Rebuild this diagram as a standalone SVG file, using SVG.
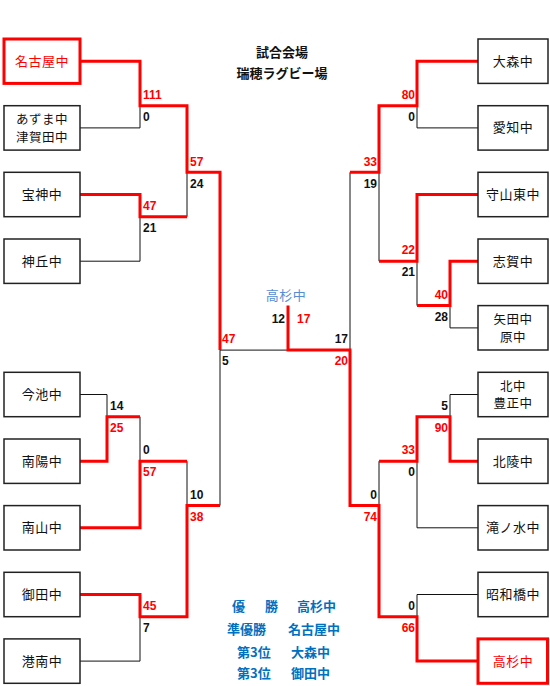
<svg xmlns="http://www.w3.org/2000/svg" width="550" height="686" viewBox="0 0 550 686">
<style>
.box{fill:#fff;stroke:#222;stroke-width:1.5}
.win{fill:#fff;stroke:#f00;stroke-width:3}
.bt{font-family:"Noto Sans CJK JP","Noto Sans",sans-serif;font-size:13px;fill:#111;text-anchor:middle;letter-spacing:0.5px}
.b2{font-size:12.5px}
.bw{fill:#f00}
.ln{fill:none;stroke:#111;stroke-width:1}
.rl{fill:none;stroke:#f00;stroke-width:3;stroke-linejoin:miter}
.sc{font-family:"Liberation Sans",Arial,sans-serif;font-size:12px;font-weight:bold;fill:#111}
.sr{fill:#f00}
.e{text-anchor:end}
.tt{font-family:"Noto Sans CJK JP",sans-serif;font-size:13px;font-weight:bold;fill:#111;text-anchor:middle}
.bl{font-family:"Noto Sans CJK JP",sans-serif;font-size:13px;font-weight:bold;fill:#0070C0}
</style>
<rect width="550" height="686" fill="#fff"/>
<g id="title">
<text class="tt" x="282" y="57">試合会場</text>
<text class="tt" x="282" y="78">瑞穂ラグビー場</text>
</g>
<g id="connectors">
<path class="ln" d="M80,127.9 H140 V105.7"/>
<path class="ln" d="M80,261.2 H140 V216.8"/>
<path class="ln" d="M187,172.3 V216.8"/>
<path class="ln" d="M80,394.5 H107 V416.7"/>
<path class="ln" d="M140,416.7 V461.2"/>
<path class="ln" d="M187,461.2 V505.6"/>
<path class="ln" d="M80,661.1 H140 V616.7"/>
<path class="ln" d="M220,350.1 V505.6"/>
<path class="ln" d="M220,350.1 H288"/>
<path class="ln" d="M478,127.9 H417 V105.7"/>
<path class="ln" d="M379,172.3 V261.2"/>
<path class="ln" d="M417,261.2 V305.6"/>
<path class="ln" d="M478,327.9 H450 V305.6"/>
<path class="ln" d="M350,172.3 V350.1"/>
<path class="ln" d="M478,394.5 H450 V416.7"/>
<path class="ln" d="M478,527.8 H417 V461.2"/>
<path class="ln" d="M379,461.2 V505.6"/>
<path class="ln" d="M478,594.5 H417 V616.7"/>
<path class="rl" d="M80,61.2 H140 V105.7 H187 V172.3 H220 V350.1"/>
<path class="rl" d="M80,194.5 H140 V216.8 H187"/>
<path class="rl" d="M80,461.2 H107 V416.7 H140"/>
<path class="rl" d="M80,527.8 H140 V461.2 H187"/>
<path class="rl" d="M80,594.5 H140 V616.7 H187 V505.6 H220"/>
<path class="rl" d="M478,61.2 H417 V105.7 H379 V172.3 H350"/>
<path class="rl" d="M478,194.5 H417 V261.2 H379"/>
<path class="rl" d="M478,261.2 H450 V305.6 H417"/>
<path class="rl" d="M478,461.2 H450 V416.7 H417 V461.2 H379"/>
<path class="rl" d="M478,661.1 H417 V616.7 H379 V505.6 H350 V350.1 H288 V305.6"/>
</g>
<g id="scores">
<text class="sc sr" x="143" y="99">111</text>
<text class="sc" x="143" y="121">0</text>
<text class="sc sr" x="190" y="165.5">57</text>
<text class="sc" x="190" y="187.5">24</text>
<text class="sc sr" x="143" y="210">47</text>
<text class="sc" x="143" y="232">21</text>
<text class="sc sr" x="222" y="343">47</text>
<text class="sc" x="222" y="365">5</text>
<text class="sc" x="110" y="410">14</text>
<text class="sc sr" x="110" y="432">25</text>
<text class="sc" x="143" y="454">0</text>
<text class="sc sr" x="143" y="476">57</text>
<text class="sc" x="190" y="498.5">10</text>
<text class="sc sr" x="190" y="520.5">38</text>
<text class="sc sr" x="143" y="610">45</text>
<text class="sc" x="143" y="632">7</text>
<text class="sc e" x="285" y="323">12</text>
<text class="sc sr" x="297" y="323">17</text>
<text class="sc sr e" x="415" y="99">80</text>
<text class="sc e" x="415" y="121">0</text>
<text class="sc sr e" x="377" y="165.5">33</text>
<text class="sc e" x="377" y="187.5">19</text>
<text class="sc sr e" x="415" y="254">22</text>
<text class="sc e" x="415" y="276">21</text>
<text class="sc sr e" x="448" y="298.5">40</text>
<text class="sc e" x="448" y="320.5">28</text>
<text class="sc e" x="348" y="343">17</text>
<text class="sc sr e" x="348" y="365">20</text>
<text class="sc e" x="448" y="410">5</text>
<text class="sc sr e" x="448" y="432">90</text>
<text class="sc sr e" x="415" y="454">33</text>
<text class="sc e" x="415" y="476">0</text>
<text class="sc e" x="377" y="498.5">0</text>
<text class="sc sr e" x="377" y="520.5">74</text>
<text class="sc e" x="415" y="610">0</text>
<text class="sc sr e" x="415" y="632">66</text>
</g>
<g id="champion-label">
<text class="bt" x="286" y="300" style="fill:#558ED5">高杉中</text>
</g>
<g id="L-nagoya"><rect class="win" x="4" y="39" width="76" height="44.4"/><text class="bt bw" x="42" y="66">名古屋中</text></g>
<g id="L-azuma"><rect class="box" x="4" y="105.7" width="76" height="44.4"/><text class="bt b2" x="42" y="124">あずま中</text><text class="bt b2" x="42" y="141.5">津賀田中</text></g>
<g id="L-hojin"><rect class="box" x="4" y="172.3" width="76" height="44.4"/><text class="bt" x="42" y="199">宝神中</text></g>
<g id="L-jingaoka"><rect class="box" x="4" y="239" width="76" height="44.4"/><text class="bt" x="42" y="265.7">神丘中</text></g>
<g id="L-imaike"><rect class="box" x="4" y="372.3" width="76" height="44.4"/><text class="bt" x="42" y="399">今池中</text></g>
<g id="L-nanyo"><rect class="box" x="4" y="439" width="76" height="44.4"/><text class="bt" x="42" y="465.7">南陽中</text></g>
<g id="L-nanzan"><rect class="box" x="4" y="505.6" width="76" height="44.4"/><text class="bt" x="42" y="532.3">南山中</text></g>
<g id="L-onda"><rect class="box" x="4" y="572.3" width="76" height="44.4"/><text class="bt" x="42" y="599">御田中</text></g>
<g id="L-konan"><rect class="box" x="4" y="638.9" width="76" height="44.4"/><text class="bt" x="42" y="665.6">港南中</text></g>
<g id="R-omori"><rect class="box" x="478" y="39" width="70" height="44.4"/><text class="bt" x="513" y="65.7">大森中</text></g>
<g id="R-aichi"><rect class="box" x="478" y="105.7" width="70" height="44.4"/><text class="bt" x="513" y="132.4">愛知中</text></g>
<g id="R-moriyamahigashi"><rect class="box" x="478" y="172.3" width="70" height="44.4"/><text class="bt" x="513" y="199">守山東中</text></g>
<g id="R-shiga"><rect class="box" x="478" y="239" width="70" height="44.4"/><text class="bt" x="513" y="265.7">志賀中</text></g>
<g id="R-yada"><rect class="box" x="478" y="305.6" width="70" height="44.4"/><text class="bt b2" x="513" y="324">矢田中</text><text class="bt b2" x="513" y="341.5">原中</text></g>
<g id="R-kita"><rect class="box" x="478" y="372.3" width="70" height="44.4"/><text class="bt b2" x="513" y="390.5">北中</text><text class="bt b2" x="513" y="408">豊正中</text></g>
<g id="R-hokuryo"><rect class="box" x="478" y="439" width="70" height="44.4"/><text class="bt" x="513" y="465.7">北陵中</text></g>
<g id="R-takinomizu"><rect class="box" x="478" y="505.6" width="70" height="44.4"/><text class="bt" x="513" y="532.3">滝ノ水中</text></g>
<g id="R-showabashi"><rect class="box" x="478" y="572.3" width="70" height="44.4"/><text class="bt" x="513" y="599">昭和橋中</text></g>
<g id="R-takasugi"><rect class="win" x="478" y="638.9" width="69.5" height="44.4"/><text class="bt bw" x="513" y="665.6">高杉中</text></g>
<g id="results">
<text class="bl" x="232" y="611">優</text><text class="bl" x="265" y="611">勝</text><text class="bl" x="297" y="611">高杉中</text>
<text class="bl" x="227" y="634">準優勝</text><text class="bl" x="288" y="634">名古屋中</text>
<text class="bl" x="237" y="657">第3位</text><text class="bl" x="291" y="657">大森中</text>
<text class="bl" x="237" y="678">第3位</text><text class="bl" x="291" y="678">御田中</text>
</g>
</svg>
